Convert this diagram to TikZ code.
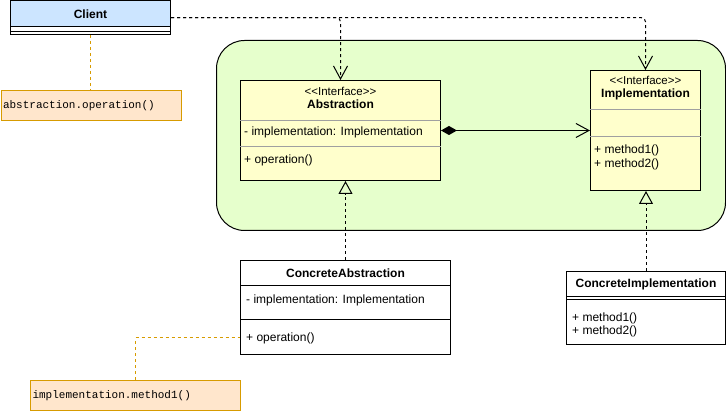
\documentclass[tikz,border=0pt]{standalone}
\usepackage{fontspec}
\setmainfont{Liberation Sans}
\setmonofont{Liberation Mono}
\usetikzlibrary{arrows.meta,positioning}

\definecolor{clientblue}{HTML}{CCE5FF}
\definecolor{packgreen}{HTML}{E6FFCC}
\definecolor{ifaceyellow}{HTML}{FFFFCC}
\definecolor{notefill}{HTML}{FFE6CC}
\definecolor{noteline}{HTML}{D79B00}
\definecolor{sepgray}{HTML}{A0A0A0}

\newcommand{\guil}[1]{<\kern0pt<#1>\kern0pt>}

\tikzset{
	classbox/.style={draw, line width=1pt, inner sep=0pt, anchor=north west},
	classmember/.style={anchor=west, inner sep=0pt, font=\fontsize{12}{14}\selectfont},
	classtitle/.style={inner sep=0pt, font=\bfseries\fontsize{12}{14}\selectfont},
	stereotype/.style={inner sep=0pt, font=\fontsize{11.5}{13}\selectfont},
	note/.style={draw=noteline, fill=notefill, line width=1pt, inner xsep=2pt, inner ysep=0pt, minimum height=30pt, align=left, anchor=north west, font=\ttfamily\fontsize{11}{13}\selectfont},
	notelink/.style={draw=noteline, line width=1pt, dash pattern=on 3pt off 3pt},
	uses/.style={line width=1pt, dash pattern=on 3pt off 3pt, rounded corners=4pt, -{Straight Barb[length=13pt,width=14pt]}},
	realizes/.style={line width=1pt, dash pattern=on 3pt off 3pt, -{Triangle[open,length=13pt,width=14pt]}},
}

\begin{document}
\begin{tikzpicture}[x=1pt, y=-1pt]
	\useasboundingbox (0,0) rectangle (726,411);
	
	\node[classbox, fill=packgreen, rounded corners=28pt, minimum width=509pt, minimum height=190pt] (pkg) at (216,40) {};
	
	% client
	\node[classbox, fill=white, minimum width=160pt, minimum height=33.5pt] (client) at (10,0.5) {};
	\node[classbox, classtitle, fill=clientblue, minimum width=160pt, minimum height=26pt] (clienthead) at (client.north west) {Client};
	\draw[line width=1pt] ([yshift=-4pt]clienthead.south west) -- ([yshift=-4pt]clienthead.south east);
	
	% abstraction
	\node[classbox, fill=ifaceyellow, minimum width=200pt, minimum height=100pt] (abs) at (240,80) {};
	\node[stereotype] (absstereo) at ([yshift=-11pt]abs.north) {\guil{Interface}};
	\node[classtitle] (abstitle) at ([yshift=-24.5pt]abs.north) {Abstraction};
	\draw[sepgray] ([yshift=-40pt]abs.north west) -- ([yshift=-40pt]abs.north east);
	\draw[sepgray] ([yshift=-66pt]abs.north west) -- ([yshift=-66pt]abs.north east);
	\node[classmember] (absattr) at ([xshift=4pt, yshift=-52pt]abs.north west) {- implementation: Implementation};
	\node[classmember] (absop) at ([xshift=4pt, yshift=-80pt]abs.north west) {+ operation()};
	
	% implementation
	\node[classbox, fill=ifaceyellow, minimum width=110pt, minimum height=120pt] (impl) at (590,70) {};
	\node[stereotype] (implstereo) at ([yshift=-10pt]impl.north) {\guil{Interface}};
	\node[classtitle] (impltitle) at ([yshift=-24.5pt]impl.north) {Implementation};
	\draw[sepgray] ([yshift=-39pt]impl.north west) -- ([yshift=-39pt]impl.north east);
	\draw[sepgray] ([yshift=-66pt]impl.north west) -- ([yshift=-66pt]impl.north east);
	\node[classmember] (implmone) at ([xshift=4pt, yshift=-80pt]impl.north west) {+ method1()};
	\node[classmember] (implmtwo) at ([xshift=4pt, yshift=-94pt]impl.north west) {+ method2()};
	
	% concrete abstraction
	\node[classbox, fill=white, minimum width=210pt, minimum height=94pt] (cabs) at (240,260) {};
	\node[classtitle] (cabstitle) at ([yshift=-13pt]cabs.north) {ConcreteAbstraction};
	\draw[line width=1pt] ([yshift=-26pt]cabs.north west) -- ([yshift=-26pt]cabs.north east);
	\draw[line width=1pt] ([yshift=-60pt]cabs.north west) -- ([yshift=-60pt]cabs.north east);
	\node[classmember] (cabsattr) at ([xshift=6pt, yshift=-40pt]cabs.north west) {- implementation: Implementation};
	\node[classmember] (cabsop) at ([xshift=6pt, yshift=-78pt]cabs.north west) {+ operation()};
	
	% concrete implementation
	\node[classbox, fill=white, minimum width=159pt, minimum height=73pt] (cimpl) at (566,271) {};
	\node[classtitle] (cimpltitle) at ([yshift=-13pt]cimpl.north) {ConcreteImplementation};
	\draw[line width=1pt] ([yshift=-26pt]cimpl.north west) -- ([yshift=-26pt]cimpl.north east);
	\draw[line width=1pt] ([yshift=-29pt]cimpl.north west) -- ([yshift=-29pt]cimpl.north east);
	\node[classmember] (cimplmone) at ([xshift=6pt, yshift=-47pt]cimpl.north west) {+ method1()};
	\node[classmember] (cimplmtwo) at ([xshift=6pt, yshift=-60pt]cimpl.north west) {+ method2()};
	
	% notes
	\node[note, text width=176pt] (noteop) at (0.5,90) {abstraction.operation()};
	\node[note, text width=206pt] (notemethod) at (30,380) {implementation.method1()};
	
	\draw[notelink] (client.south) -- (client.south |- noteop.north);
	\draw[notelink] (notemethod.north) |- (cabs.west |- cabsop);
	
	\draw[uses] (client.east) -| (abs.north);
	\draw[uses] (client.east) -| (impl.north);
	\draw[line width=1pt, {Diamond[length=16pt,width=9pt]}-{Straight Barb[length=13pt,width=14pt]}] (abs.east) -- (impl.west);
	\draw[realizes] (cabs.north) -- (cabs.north |- abs.south);
	\draw[realizes] (cimpl.north) -- (cimpl.north |- impl.south);
\end{tikzpicture}
\end{document}
